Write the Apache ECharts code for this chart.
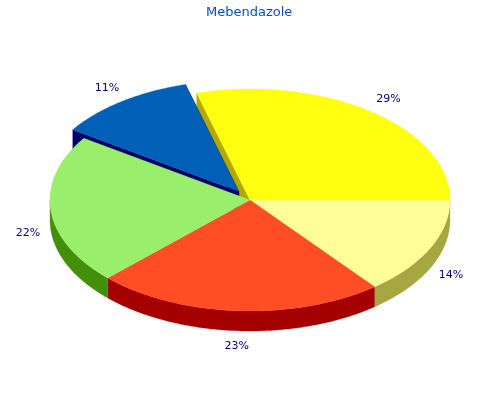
<!DOCTYPE html>
<html><head><meta charset="utf-8">
<style>html,body{margin:0;padding:0;background:#fff}#c{width:500px;height:400px}</style>
<script src="https://cdn.jsdelivr.net/npm/echarts@6/dist/echarts.min.js"></script>
</head><body><div id="c"></div>
<script>
const titleText = 'Mebendazole';
const labels = ['14%', '23%', '22%', '11%', '29%'];
const values = [14.3, 23.3, 21.8, 11.3, 29.3];
const topColors = ['#FFFF99', '#FF4D26', '#99EE6B', '#0060B8', '#FFFF0F'];
const wallColors = ['#A6A642', '#A50000', '#438F0A', '#000066', '#B3A800'];
const exploded = [0, 0, 0, 0.095, 0];
const labelColor = '#000080';

const CX = 250, CY = 200, RX = 200, RY = 111, DEPTH = 20;
const total = values.reduce((a, b) => a + b, 0);
let acc = 0;
const slices = values.map((v, i) => {
  const a0 = acc / total * Math.PI * 2; acc += v;
  const a1 = acc / total * Math.PI * 2;
  return [v, a0, a1, i];
});

function arc(cx, cy, a0, a1, dy) {
  const pts = [], n = Math.max(2, Math.ceil((a1 - a0) / 0.01));
  for (let k = 0; k <= n; k++) {
    const t = a0 + (a1 - a0) * k / n;
    pts.push([cx + RX * Math.cos(t), cy + RY * Math.sin(t) + dy]);
  }
  return pts;
}

function renderItem(params, api) {
  const i = api.value(3), a0 = api.value(1), a1 = api.value(2);
  const mid = (a0 + a1) / 2, e = exploded[i];
  const cx = CX + e * RX * Math.cos(mid), cy = CY + e * RY * Math.sin(mid);
  const back = e > 0;
  const children = [];
  const wall = (pts, z2) => children.push({
    type: 'polygon', z2, shape: { points: pts },
    style: { fill: wallColors[i], stroke: wallColors[i], lineWidth: 0.3 }
  });
  // outer wall: only the front half of the rim shows
  const f0 = Math.max(a0, 0), f1 = Math.min(a1, Math.PI);
  if (f1 > f0) {
    wall(arc(cx, cy, f0, f1, 0).concat(arc(cx, cy, f0, f1, DEPTH).reverse()), 4);
  }
  const cut = a => {
    const x = cx + RX * Math.cos(a), y = cy + RY * Math.sin(a);
    return [[cx, cy], [x, y], [x, y + DEPTH], [cx, cy + DEPTH]];
  };
  if (i === 4) wall(cut(a0), 1);
  if (back) { wall(cut(a0), 2); wall(cut(a1), 2); }
  children.push({
    type: 'polygon', z2: back ? 3 : 5,
    shape: { points: [[cx, cy]].concat(arc(cx, cy, a0, a1, 0)) },
    style: { fill: topColors[i], stroke: topColors[i], lineWidth: 0.3 }
  });
  const s = Math.sin(mid);
  children.push({
    type: 'text', z2: 10,
    style: {
      text: labels[i],
      x: cx + (RX + (s < 0 ? 27 : 23)) * Math.cos(mid) + (s < 0 ? 1 : 0),
      y: cy + (RY + (s < 0 ? 16 : 14)) * s + (s > 0 ? DEPTH + 1 : 0),
      fill: labelColor, font: '11px "DejaVu Sans"',
      align: 'center', verticalAlign: 'middle'
    }
  });
  return { type: 'group', children };
}

const chart = echarts.init(document.getElementById('c'), null, { renderer: 'canvas', width: 500, height: 400 });
chart.setOption({
  animation: false,
  backgroundColor: '#fff',
  title: {
    text: titleText, left: 201, top: 1,
    textStyle: { color: '#0B4FC0', fontSize: 13, fontWeight: 'normal', fontFamily: 'DejaVu Sans' }
  },
  series: [{
    type: 'custom', coordinateSystem: 'none', renderItem, silent: true,
    data: slices
  }]
});
</script></body></html>
